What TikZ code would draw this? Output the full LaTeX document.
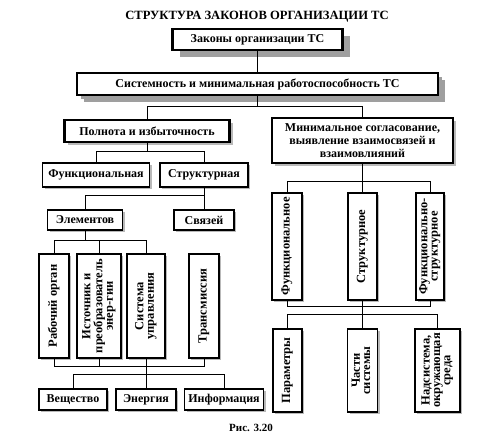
\documentclass[tikz,border=0pt]{standalone}
\usepackage{fontspec}
\setmainfont{Liberation Serif}
\usetikzlibrary{shadows}
\newcommand{\vtext}[1]{\rotatebox{90}{\renewcommand{\arraystretch}{0.8}\begin{tabular}{@{}c@{}}#1\end{tabular}}}

\begin{document}
\begin{tikzpicture}[x=1pt,y=-1pt,line width=0.8pt,
  font=\bfseries\fontsize{12}{13}\selectfont,
  lawbox/.style={draw,fill=white,line width=2.6pt,inner sep=0pt,align=center,
    drop shadow={shadow xshift=7pt,shadow yshift=-7pt,fill=gray!75,opacity=1}},
  headbox/.style={draw,fill=white,line width=2.4pt,inner sep=0pt,align=center,
    drop shadow={shadow xshift=3pt,shadow yshift=-3pt,fill=gray!55,opacity=1}},
  kindbox/.style={draw,fill=white,line width=1.5pt,inner sep=0pt,align=center,
    drop shadow={shadow xshift=2pt,shadow yshift=-2pt,fill=gray!55,opacity=1}},
  partbox/.style={draw,fill=white,line width=1.1pt,inner sep=0pt,align=center,
    font=\bfseries\fontsize{12.5}{13}\selectfont,
    drop shadow={shadow xshift=2pt,shadow yshift=-2pt,fill=gray!55,opacity=1}}]
\useasboundingbox (0,0) rectangle (500,440);
% ---------- title ----------
\node[font=\bfseries\fontsize{12.6}{14}\selectfont] (title) at (257,17) {СТРУКТУРА ЗАКОНОВ ОРГАНИЗАЦИИ ТС};
% ---------- top levels ----------
\node[lawbox,minimum width=170,minimum height=21] (laws) at (257.5,39.5) {Законы организации ТС};
\node[lawbox,minimum width=361,minimum height=22,
  drop shadow={shadow xshift=4pt,shadow yshift=-4pt,fill=gray!75,opacity=1}] (sys) at (257.5,84) {Системность и минимальная работоспособность ТС};
\node[headbox,minimum width=165,minimum height=22] (full) at (147,131) {Полнота и избыточность};
\node[headbox,minimum width=181,minimum height=45] (minagr) at (362.5,140.5) {Минимальное согласование,\\выявление взаимосвязей и\\взаимовлияний};
\draw (laws) -- (sys);
\draw (sys.south) -- ++(0,10) coordinate (sysfork);
\draw (full.north) |- (sysfork) -| (minagr.north);
% ---------- left branch ----------
\node[kindbox,minimum width=107,minimum height=24] (func) at (96,175) {Функциональная};
\node[kindbox,minimum width=88,minimum height=24] (struc) at (204,175) {Структурная};
\draw (full.south) -- ++(0,8) coordinate (fullfork);
\draw (func.north) |- (fullfork) -| (struc.north);
\node[partbox,minimum width=75,minimum height=20,font=\bfseries\fontsize{12}{13}\selectfont] (elem) at (85,220) {Элементов};
\node[partbox,minimum width=60,minimum height=20,font=\bfseries\fontsize{12}{13}\selectfont] (link) at (204,220) {Связей};
\draw (struc) -- (link);
\draw (elem.north) |- (link.north |- 0,195);
\node[partbox,minimum width=30,minimum height=104] (work) at (54,306) {\vtext{Рабочий орган}};
\node[partbox,minimum width=44,minimum height=104] (source) at (99,306) {\vtext{Источник и\\преобразователь\\энер-гии}};
\node[partbox,minimum width=38,minimum height=104] (ctrl) at (146,306) {\vtext{Система\\управления}};
\node[partbox,minimum width=30,minimum height=104] (trans) at (204,306) {\vtext{Трансмиссия}};
\draw (elem.south) -- ++(0,10) coordinate (elemfork);
\draw (work.north) |- (elemfork) -| (ctrl.north);
\draw (source.north) -- (source.north |- elemfork);
\draw (work.south) -- ++(0,8) -| (trans.south);
\draw (source.south) -- ++(0,8);
\draw (ctrl.south) -- ++(0,16) coordinate (ctrlfork);
% ---------- flows ----------
\node[kindbox,minimum width=68,minimum height=21] (matter) at (73,399.5) {Вещество};
\node[kindbox,minimum width=60,minimum height=21] (energy) at (146,399.5) {Энергия};
\node[kindbox,minimum width=79,minimum height=21] (info) at (224,399.5) {Информация};
\draw (matter.north) |- (ctrlfork) -| (info.north);
\draw (energy) -- (ctrlfork);
% ---------- right branch ----------
\node[partbox,minimum width=30,minimum height=107] (rfunc) at (287,246.5) {\vtext{Функциональное}};
\node[partbox,minimum width=29,minimum height=107] (rstruc) at (362.5,246.5) {\vtext{Структурное}};
\node[partbox,minimum width=28,minimum height=107] (rfs) at (430,246.5) {\vtext{Функционально-\\структурное}};
\draw (minagr.south) -- ++(0,17) coordinate (minfork);
\draw (rfunc.north) |- (minfork) -| (rfs.north);
\draw (rstruc) -- (minfork);
\draw (rfunc.south) -- ++(0,6) -| (rfs.south);
\draw (rstruc.south) -- ++(0,14) coordinate (aspfork);
\node[partbox,minimum width=29,minimum height=83] (params) at (287.5,370.5) {\vtext{Параметры}};
\node[partbox,minimum width=30,minimum height=83] (parts) at (362.5,370.5) {\vtext{Части\\системы}};
\node[partbox,minimum width=45,minimum height=83] (super) at (437.5,370.5) {\vtext{Надсистема,\\окружающая\\среда}};
\draw (params.north) |- (aspfork) -| (super.north);
\draw (parts) -- (aspfork);
% ---------- caption ----------
\node[font=\bfseries\fontsize{11}{12}\selectfont] (caption) at (251,428) {Рис. 3.20};
\end{tikzpicture}
\end{document}
